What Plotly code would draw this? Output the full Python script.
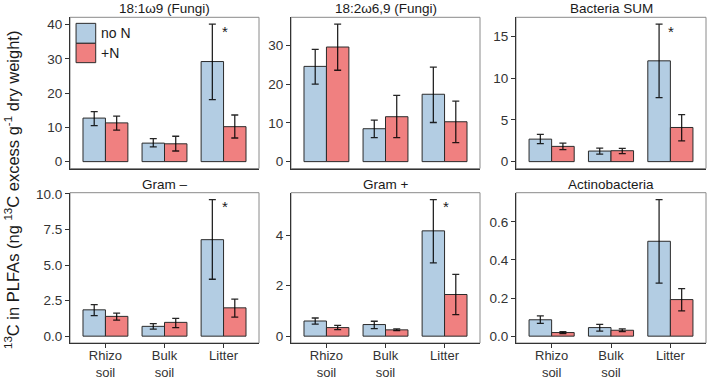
import plotly.graph_objects as go

# ---------------- data ----------------
sites = ["Rhizo<br>soil", "Bulk<br>soil", "Litter"]
panel_titles = ["18:1ω9 (Fungi)", "18:2ω6,9 (Fungi)", "Bacteria SUM",
                "Gram –", "Gram +", "Actinobacteria"]
treatments = ["no N", "+N"]

# means per panel [Rhizo, Bulk, Litter]
noN_mean = [
    [12.7, 5.4, 29.2],
    [24.6, 8.5, 17.4],
    [2.70, 1.27, 12.1],
    [1.85, 0.69, 6.78],
    [0.60, 0.46, 4.17],
    [0.086, 0.045, 0.498],
]
plusN_mean = [
    [11.3, 5.2, 10.2],
    [29.6, 11.6, 10.3],
    [1.83, 1.31, 4.10],
    [1.39, 0.97, 1.99],
    [0.34, 0.25, 1.65],
    [0.019, 0.031, 0.192],
]
# error bar extents (upper, lower)
noN_hi = [
    [14.6, 6.7, 40.1],
    [29.0, 10.7, 24.4],
    [3.26, 1.63, 16.5],
    [2.22, 0.88, 9.6],
    [0.72, 0.59, 5.41],
    [0.107, 0.062, 0.717],
]
noN_lo = [
    [10.5, 4.3, 18.1],
    [20.0, 6.2, 10.1],
    [2.15, 0.91, 7.68],
    [1.44, 0.49, 4.0],
    [0.48, 0.30, 2.9],
    [0.067, 0.026, 0.278],
]
plusN_hi = [
    [13.3, 7.4, 13.6],
    [35.5, 17.1, 15.6],
    [2.23, 1.59, 5.65],
    [1.62, 1.25, 2.6],
    [0.43, 0.29, 2.45],
    [0.024, 0.038, 0.249],
]
plusN_lo = [
    [9.2, 3.1, 6.9],
    [23.6, 6.2, 4.9],
    [1.43, 0.95, 2.5],
    [1.13, 0.60, 1.34],
    [0.26, 0.22, 0.85],
    [0.014, 0.024, 0.133],
]
signif = ["*", "", "*", "*", "*", ""]
y_dtick = [10, 10, 5, 2.5, 2, 0.2]
y_fmt = ["", "", "", ".1f", "", ".1f"]

# ---------------- style ----------------
FONT = "Liberation Sans, Arial, sans-serif"
C_NO = "#B3CDE3"
C_PLUS = "#F08080"
EDGE = "#2b2b2b"
ERR = "rgba(0,0,0,0.85)"

col_dom = [(70 / 709, 259 / 709), (291 / 709, 480 / 709), (516 / 709, 706 / 709)]
row_dom = [(1 - 168.5 / 380, 1 - 17.3 / 380), (1 - 343 / 380, 1 - 192.7 / 380)]

fig = go.Figure()
layout = dict(
    width=709, height=380,
    margin=dict(l=0, r=0, t=0, b=0, autoexpand=False),
    paper_bgcolor="white", plot_bgcolor="white",
    barmode="group", bargap=0.24, bargroupgap=0.0,
    showlegend=False,
    font=dict(family=FONT, size=13, color="#1a1a1a"),
)
annotations = []
shapes = []

for i in range(6):
    r, c = divmod(i, 3)
    n = i + 1
    xa = "x" if n == 1 else f"x{n}"
    ya = "y" if n == 1 else f"y{n}"
    xkey = "xaxis" if n == 1 else f"xaxis{n}"
    ykey = "yaxis" if n == 1 else f"yaxis{n}"

    for mean, hi, lo, col, name in [
        (noN_mean[i], noN_hi[i], noN_lo[i], C_NO, treatments[0]),
        (plusN_mean[i], plusN_hi[i], plusN_lo[i], C_PLUS, treatments[1]),
    ]:
        fig.add_trace(go.Bar(
            x=sites, y=mean, name=name, xaxis=xa, yaxis=ya,
            marker=dict(color=col, line=dict(color=EDGE, width=1)),
            offsetgroup=name,
            error_y=dict(type="data", symmetric=False,
                         array=[h - m for h, m in zip(hi, mean)],
                         arrayminus=[m - l for m, l in zip(mean, lo)],
                         color=ERR, thickness=1.3, width=3.5),
        ))

    ymax = max(max(noN_hi[i]), max(plusN_hi[i]))
    layout[xkey] = dict(
        domain=list(col_dom[c]), anchor=ya, automargin=False,
        type="category", categoryorder="array", categoryarray=sites,
        range=[-0.6, 2.6],
        showline=True, linecolor="#333333", linewidth=1,
        ticks="outside" if r == 1 else "", ticklen=4, tickcolor="#333333",
        showticklabels=(r == 1), ticklabelstandoff=-4,
        tickfont=dict(family=FONT, size=13, color="#333333"),
        showgrid=False, zeroline=False, fixedrange=True,
    )
    layout[ykey] = dict(
        domain=list(row_dom[r]), anchor=xa, automargin=False,
        range=[-0.05 * ymax, 1.05 * ymax],
        dtick=y_dtick[i], tick0=0, tickformat=y_fmt[i],
        showline=True, linecolor="#333333", linewidth=1,
        ticks="outside", ticklen=4, tickcolor="#333333",
        tickfont=dict(family=FONT, size=13.5, color="#333333"),
        showgrid=False, zeroline=False, fixedrange=True,
    )
    # panel border
    shapes.append(dict(type="rect", xref=f"{xa} domain", yref=f"{ya} domain",
                       x0=0, x1=1, y0=0, y1=1,
                       line=dict(color="#8a8a8a", width=1), layer="below"))
    # strip title
    annotations.append(dict(text=panel_titles[i], xref=f"{xa} domain",
                            yref=f"{ya} domain", x=0.5, y=1, yanchor="bottom",
                            yshift=-1, showarrow=False,
                            font=dict(family=FONT, size=13.5, color="#1a1a1a")))
    # significance
    if signif[i]:
        annotations.append(dict(text=signif[i], xref=xa, yref=ya,
                                x=sites[2], y=0.95 * ymax, yanchor="middle",
                                xshift=1, yshift=0, showarrow=False,
                                font=dict(family=FONT, size=15, color="#1a1a1a")))

# manual legend in first panel
leg_items = [(treatments[0], C_NO, 0.960, 0.828), (treatments[1], C_PLUS, 0.828, 0.700)]
for name, col, y1, y0 in leg_items:
    shapes.append(dict(type="rect", xref="x domain", yref="y domain",
                       x0=0.032, x1=0.136, y0=y0, y1=y1,
                       fillcolor=col, line=dict(color=EDGE, width=1), layer="above"))
    annotations.append(dict(text=name, xref="x domain", yref="y domain",
                            x=0.152, y=(y0 + y1) / 2, xanchor="left",
                            yanchor="middle", showarrow=False,
                            font=dict(family=FONT, size=14, color="#1a1a1a")))

# y axis title
annotations.append(dict(
    text="<sup>13</sup>C in PLFAs (ng <sup>13</sup>C excess g<sup>-1</sup> dry weight)",
    xref="paper", yref="paper", x=12 / 709, y=0.5,
    xanchor="center", yanchor="middle", textangle=-90, showarrow=False,
    font=dict(family=FONT, size=16.5, color="#1a1a1a")))

layout["annotations"] = annotations
layout["shapes"] = shapes
fig.update_layout(**layout)
fig.write_html("out.html",
               config={"displayModeBar": False, "staticPlot": True},
               post_script="document.body.style.margin='0';document.body.style.padding='0';")
